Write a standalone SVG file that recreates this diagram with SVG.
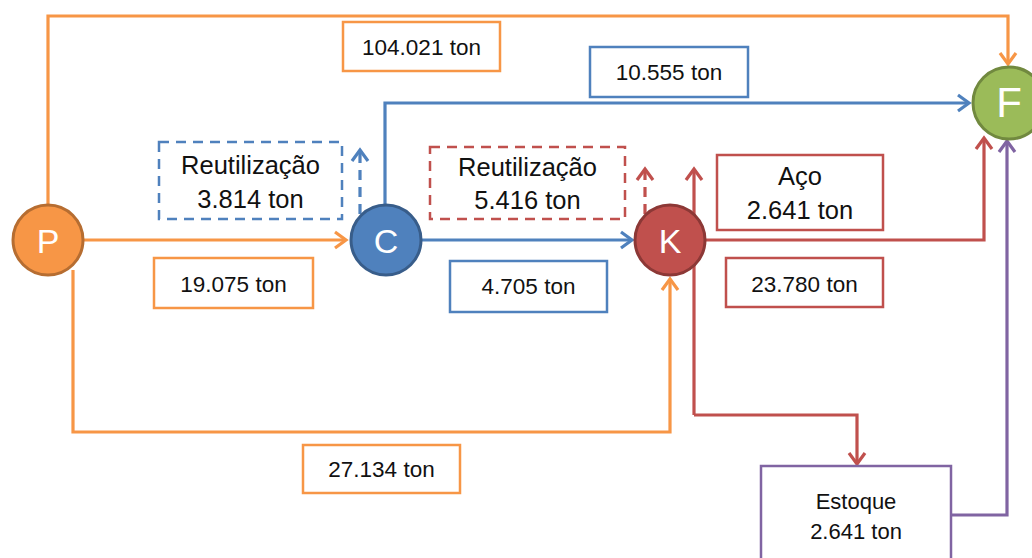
<svg xmlns="http://www.w3.org/2000/svg" width="1032" height="558" viewBox="0 0 1032 558">
  <style>
    .lbl { font-family: "Liberation Sans", Arial, sans-serif; fill: #111; text-anchor: middle; }
    .s { font-size: 22.5px; }
    .m { font-size: 25.5px; }
    .node-t { font-family: "Liberation Sans", Arial, sans-serif; fill: #fff; text-anchor: middle; font-size: 34px; }
    .box { fill: #fff; stroke-width: 2.5; }
    .flow { fill: none; stroke-width: 3.2; stroke-linejoin: miter; }
    .o { stroke: #F79646; }
    .b { stroke: #4F81BD; }
    .r { stroke: #C0504D; }
    .p { stroke: #8064A2; }
    .dash { stroke-dasharray: 10 7; }
  </style>
  <defs>
    <marker id="ah-o" markerUnits="userSpaceOnUse" markerWidth="24" markerHeight="24" refX="12" refY="12" orient="auto" overflow="visible">
      <path d="M1,4 L12,12 L1,20" fill="none" stroke="#F79646" stroke-width="3.2"/>
    </marker>
    <marker id="ah-b" markerUnits="userSpaceOnUse" markerWidth="24" markerHeight="24" refX="12" refY="12" orient="auto" overflow="visible">
      <path d="M1,4 L12,12 L1,20" fill="none" stroke="#4F81BD" stroke-width="3.2"/>
    </marker>
    <marker id="ah-r" markerUnits="userSpaceOnUse" markerWidth="24" markerHeight="24" refX="12" refY="12" orient="auto" overflow="visible">
      <path d="M1,4 L12,12 L1,20" fill="none" stroke="#C0504D" stroke-width="3.2"/>
    </marker>
    <marker id="ah-p" markerUnits="userSpaceOnUse" markerWidth="24" markerHeight="24" refX="12" refY="12" orient="auto" overflow="visible">
      <path d="M1,4 L12,12 L1,20" fill="none" stroke="#8064A2" stroke-width="3.2"/>
    </marker>
  </defs>

  <rect width="1032" height="558" fill="#fff"/>

  <!-- flows -->
  <g id="connectors">
    <path class="flow o" d="M48,205 V16 H1008 V64" marker-end="url(#ah-o)"/>
    <path class="flow o" d="M84,240 H346" marker-end="url(#ah-o)"/>
    <path class="flow o" d="M73,270 V432 H670 V279" marker-end="url(#ah-o)"/>
    <path class="flow b" d="M385,206 V103 H969" marker-end="url(#ah-b)"/>
    <path class="flow b" d="M422,240 H632" marker-end="url(#ah-b)"/>
    <path class="flow b dash" d="M360,214 V150" marker-end="url(#ah-b)"/>
    <path class="flow r dash" d="M645,214 V169" marker-end="url(#ah-r)"/>
    <path class="flow r" d="M694,415 V169" marker-end="url(#ah-r)"/>
    <path class="flow r" d="M694,415 H857 V464" marker-end="url(#ah-r)"/>
    <path class="flow r" d="M706,240 H984 V138" marker-end="url(#ah-r)"/>
    <path class="flow p" d="M951,515 H1007 V141" marker-end="url(#ah-p)"/>
  </g>

  <!-- process nodes -->
  <g id="node-P">
    <circle cx="48" cy="240" r="35" fill="#F79646" stroke="#B66D31" stroke-width="3"/>
    <text class="node-t" x="48" y="253">P</text>
  </g>
  <g id="node-C">
    <circle cx="386" cy="240" r="35" fill="#4F81BD" stroke="#385D8A" stroke-width="3"/>
    <text class="node-t" x="386" y="253">C</text>
  </g>
  <g id="node-K">
    <circle cx="670" cy="240" r="35" fill="#C0504D" stroke="#8C3836" stroke-width="3"/>
    <text class="node-t" x="670" y="253">K</text>
  </g>
  <g id="node-F">
    <circle cx="1009" cy="103" r="36" fill="#9BBB59" stroke="#71893F" stroke-width="3"/>
    <text class="node-t" x="1009" y="117" style="font-size:42px">F</text>
  </g>

  <!-- quantity labels -->
  <g id="label-104021">
    <rect class="box o" x="343" y="22" width="157" height="49"/>
    <text class="lbl s" x="421.5" y="55">104.021 ton</text>
  </g>
  <g id="label-10555">
    <rect class="box b" x="590" y="47" width="158" height="50"/>
    <text class="lbl s" x="669" y="80">10.555 ton</text>
  </g>
  <g id="label-reuse-C">
    <rect class="box b dash" x="159" y="142" width="183" height="77"/>
    <text class="lbl m" x="250.5" y="174">Reutilização</text>
    <text class="lbl m" x="250.5" y="208">3.814 ton</text>
  </g>
  <g id="label-reuse-K">
    <rect class="box r dash" x="430" y="147" width="195" height="72"/>
    <text class="lbl m" x="527.5" y="176">Reutilização</text>
    <text class="lbl m" x="527.5" y="209">5.416 ton</text>
  </g>
  <g id="label-aco">
    <rect class="box r" x="717" y="155" width="166" height="75"/>
    <text class="lbl m" x="800" y="185">Aço</text>
    <text class="lbl m" x="800" y="219">2.641 ton</text>
  </g>
  <g id="label-19075">
    <rect class="box o" x="154" y="258" width="159" height="50"/>
    <text class="lbl s" x="233.5" y="292">19.075 ton</text>
  </g>
  <g id="label-4705">
    <rect class="box b" x="450" y="261" width="157" height="51"/>
    <text class="lbl s" x="528.5" y="294">4.705 ton</text>
  </g>
  <g id="label-23780">
    <rect class="box r" x="726" y="258" width="157" height="49"/>
    <text class="lbl s" x="804.5" y="292">23.780 ton</text>
  </g>
  <g id="label-27134">
    <rect class="box o" x="303" y="445" width="157" height="48"/>
    <text class="lbl s" x="381.5" y="477">27.134 ton</text>
  </g>
  <g id="node-estoque">
    <rect class="box p" x="761" y="466" width="190" height="110"/>
    <text class="lbl" x="856" y="509" style="font-size:22px">Estoque</text>
    <text class="lbl" x="856" y="539" style="font-size:22px">2.641 ton</text>
  </g>
</svg>
